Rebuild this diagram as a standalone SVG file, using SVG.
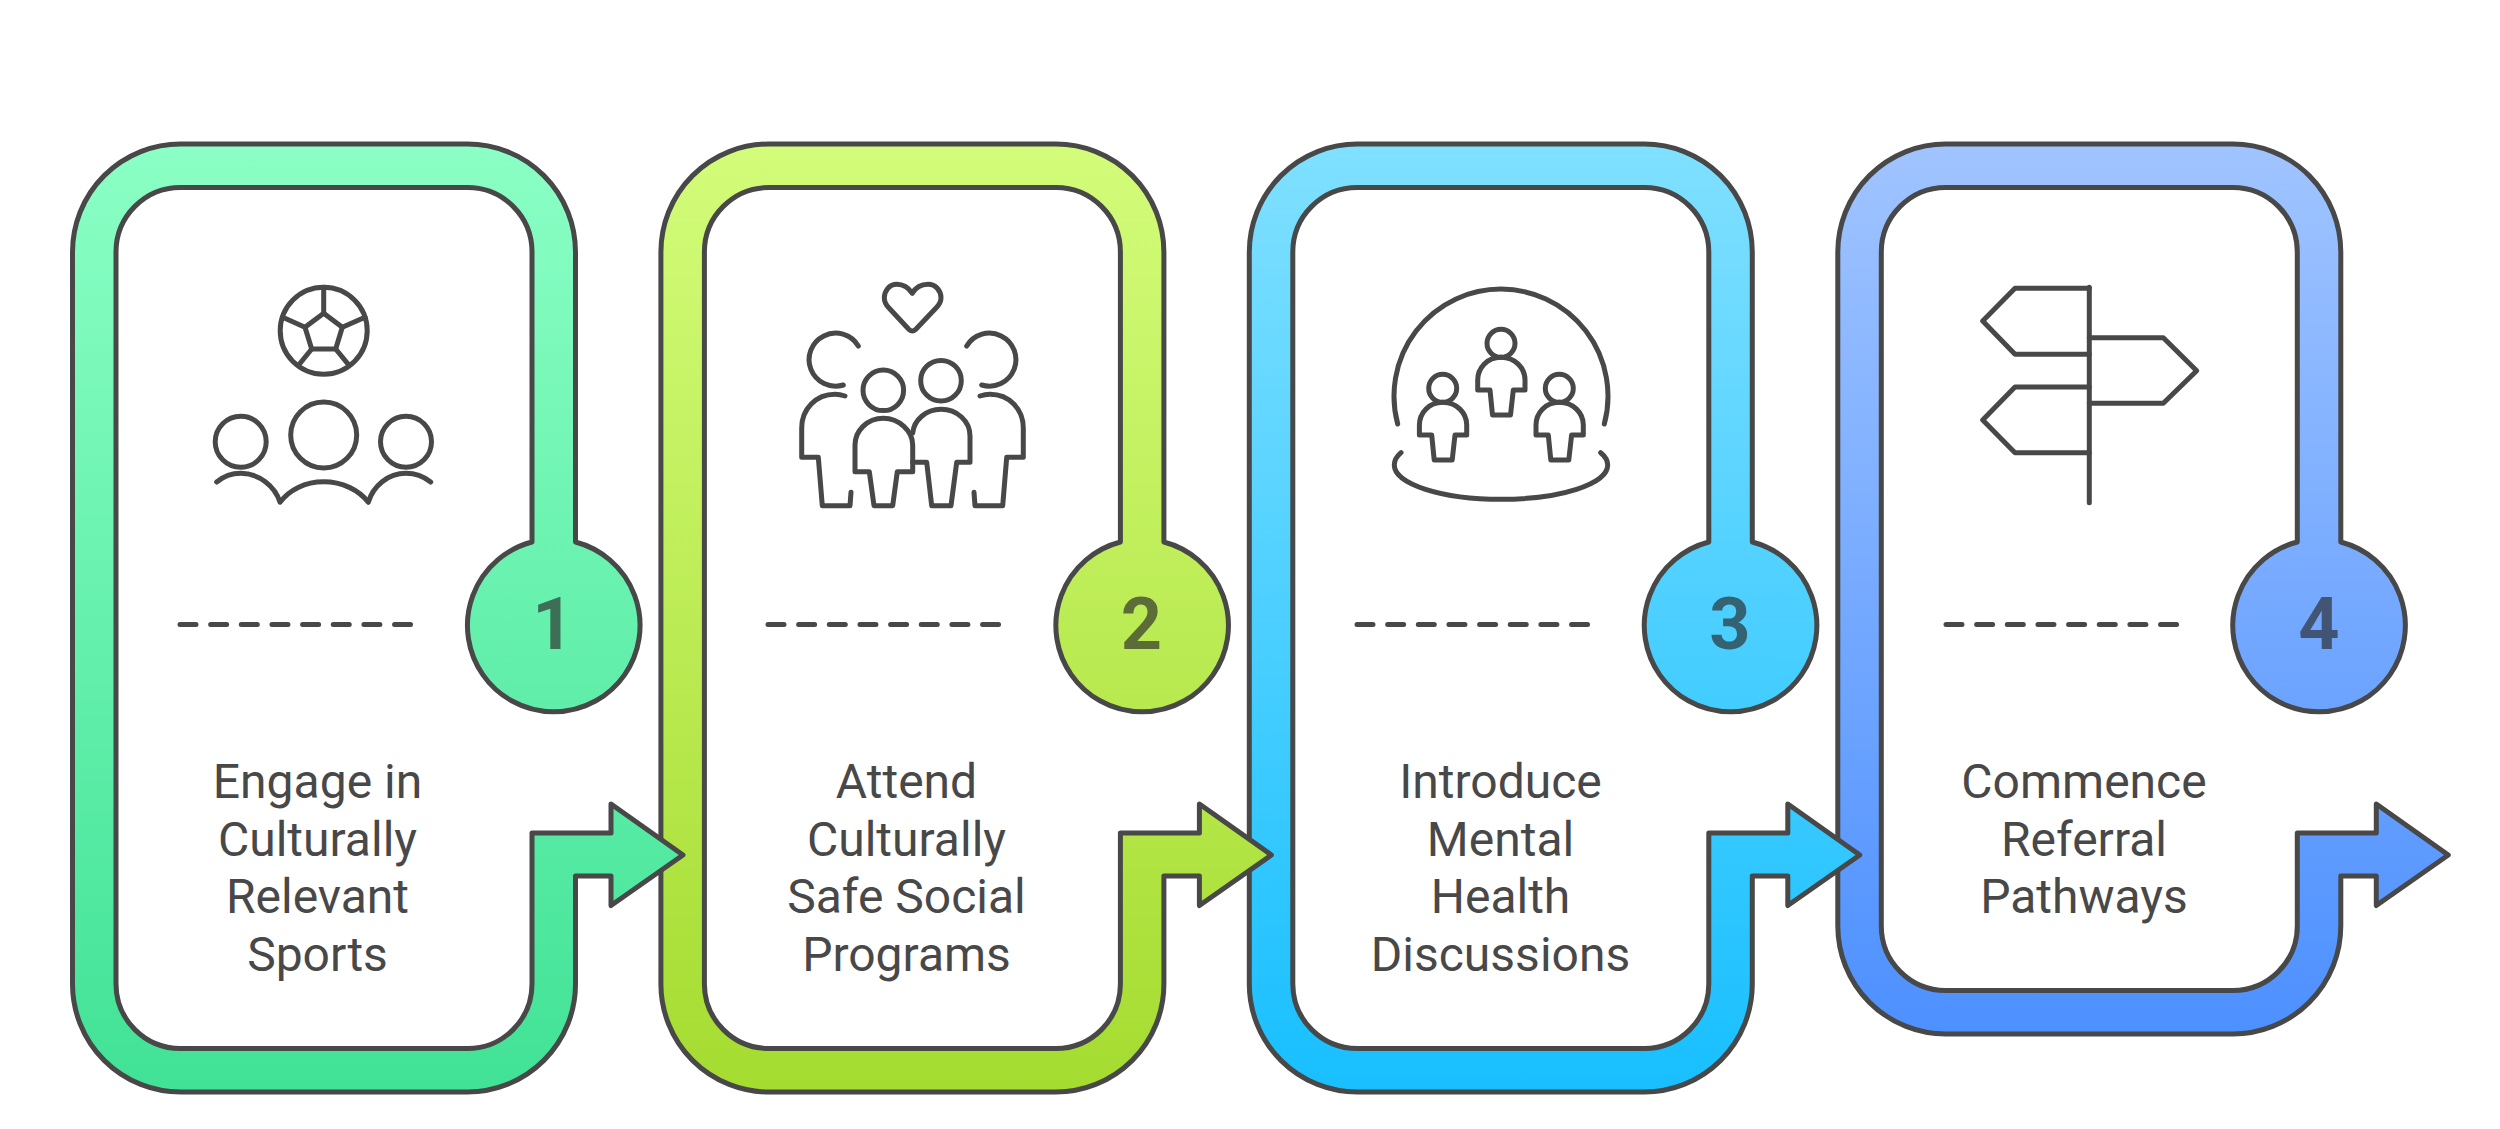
<svg xmlns="http://www.w3.org/2000/svg" width="2500" height="1129" viewBox="0 0 2500 1129">
<style>
.band{stroke:#484848;stroke-width:5;stroke-linejoin:round}
.ic{fill:none;stroke:#484848;stroke-width:5;stroke-linecap:round;stroke-linejoin:round}
.dash{fill:none;stroke:#484848;stroke-width:5;stroke-linecap:round;stroke-dasharray:16 14.65}
.lbl{font-family:Roboto,"Liberation Sans",sans-serif;font-size:48px;fill:#484848;text-anchor:middle}
.num{font-family:Roboto,"Liberation Sans",sans-serif;font-size:72px;font-weight:700;fill:#282828;fill-opacity:.65;text-anchor:middle}
</style>
<defs>
<linearGradient id="g1" x1="0" y1="0" x2="0" y2="1"><stop offset="0" stop-color="#8BFFC5"/><stop offset="1" stop-color="#41E296"/></linearGradient>
<linearGradient id="g2" x1="0" y1="0" x2="0" y2="1"><stop offset="0" stop-color="#D3FC7A"/><stop offset="1" stop-color="#A5DC30"/></linearGradient>
<linearGradient id="g3" x1="0" y1="0" x2="0" y2="1"><stop offset="0" stop-color="#80E0FF"/><stop offset="1" stop-color="#18BFFF"/></linearGradient>
<linearGradient id="g4" x1="0" y1="0" x2="0" y2="1"><stop offset="0" stop-color="#A0C4FF"/><stop offset="1" stop-color="#4D90FF"/></linearGradient>
<path id="band" class="band" d="M532 542V252A64.500 64.500 0 0 0 467.500 187.500H180.500A64.500 64.500 0 0 0 116 252V984A64.500 64.500 0 0 0 180.500 1048.500H467.500A64.500 64.500 0 0 0 532 984V833H611V804L683 855L611 905.500V876H575.500V984A108 108 0 0 1 467.500 1092H180.500A108 108 0 0 1 72.500 984V252A108 108 0 0 1 180.500 144H467.500A108 108 0 0 1 575.500 252V542A86.300 86.300 0 1 1 532 542Z"/>
<g id="p3">
<circle cx="1501" cy="343.300" r="14"/>
<path d="M1501 357.300C1487 357.300 1477.700 368 1477.700 380V390H1490L1492.500 415H1510.500L1513.300 390H1525V380C1525 368 1515 357.300 1501 357.300Z"/>
</g>
</defs>

<g id="node-4">
<path class="band" fill="url(#g4)" transform="translate(1765.300 0)" d="M532 542V252A64.500 64.500 0 0 0 467.500 187.500H180.500A64.500 64.500 0 0 0 116 252V926A64.500 64.500 0 0 0 180.500 990.500H467.500A64.500 64.500 0 0 0 532 926V833H611V804L683 855L611 905.500V876H575.500V926A108 108 0 0 1 467.500 1034H180.500A108 108 0 0 1 72.500 926V252A108 108 0 0 1 180.500 144H467.500A108 108 0 0 1 575.500 252V542A86.300 86.300 0 1 1 532 542Z"/>
<text class="num" x="2319" y="649">4</text>
<line class="dash" x1="1946" y1="624.500" x2="2180" y2="624.500"/>
<text class="lbl" x="2084" y="798">Commence</text>
<text class="lbl" x="2084" y="855.500">Referral</text>
<text class="lbl" x="2084" y="913">Pathways</text>
<g class="ic">
<path d="M2089.300 287.300V502.700"/>
<path d="M2089.300 288.300H2015L1982.700 321L2015 354.300H2089.300"/>
<path d="M2089.300 337.700H2163.300L2196.700 370.700L2163.300 403.300H2089.300"/>
<path d="M2089.300 387H2015L1982.700 420L2015 452.700H2089.300"/>
</g>
</g>

<g id="node-3">
<use href="#band" fill="url(#g3)" x="1176.800"/>
<text class="num" x="1730" y="649">3</text>
<line class="dash" x1="1357" y1="624.500" x2="1591" y2="624.500"/>
<text class="lbl" x="1500.500" y="798">Introduce</text>
<text class="lbl" x="1500.500" y="855.500">Mental</text>
<text class="lbl" x="1500.500" y="913">Health</text>
<text class="lbl" x="1500.500" y="970.500">Discussions</text>
<g class="ic">
<path d="M1397.700 424A107 107 0 1 1 1604.300 424"/>
<path d="M1401 452.700C1396 457 1394.300 461 1394.300 465C1394.300 484 1442 499.300 1501 499.300C1560 499.300 1607.700 484 1607.700 465C1607.700 461 1606 457 1600.700 452.700"/>
<use href="#p3"/>
<use href="#p3" x="-58.300" y="45"/>
<use href="#p3" x="58.300" y="45"/>
</g>
</g>

<g id="node-2">
<use href="#band" fill="url(#g2)" x="588.400"/>
<text class="num" x="1141.500" y="649">2</text>
<line class="dash" x1="768" y1="624.500" x2="1002" y2="624.500"/>
<text class="lbl" x="906.500" y="798">Attend</text>
<text class="lbl" x="906.500" y="855.500">Culturally</text>
<text class="lbl" x="906.500" y="913">Safe Social</text>
<text class="lbl" x="906.500" y="970.500">Programs</text>
<g class="ic">
<path d="M912.300 293.300C908 287 902 284.300 897 284.300C889 284.300 884.300 291 884.300 298C884.300 302 886 305 889 308L909 329.500Q912.300 332.500 915.600 329.500L936 308C939 305 941 302 941 298C941 291 936 284.300 928 284.300C922 284.300 916 287 912.300 293.300Z"/>
<path d="M858.300 346A26.500 26.500 0 1 0 843.300 385"/>
<path d="M845 396Q840 394.300 835 394.300C816 394.300 801.700 409 801.700 428V457.300H818.300L822.300 505.700H850L851 492.300"/>
<path d="M966.700 346A26.500 26.500 0 1 1 981.700 385"/>
<path d="M980 396Q985 394.300 990 394.300C1009 394.300 1023.300 409 1023.300 428V457.300H1006.700L1002.700 505.700H975L974 492.300"/>
<circle cx="883.300" cy="390.300" r="20.300"/>
<circle cx="941" cy="380.700" r="20.300"/>
<path d="M883.300 418.300C867 418.300 855 431 855 445V471.700H869.300L874 505.700H892.700L897.300 471.700H912.700V445C912.700 431 899 418.300 883.300 418.300Z"/>
<path d="M912.700 433C914 420 926 409.300 941 409.300C957 409.300 970 421 970 436V462.300H956.700L951 505.700H931.700L926.700 462.300H912.700"/>
</g>
</g>

<g id="node-1">
<use href="#band" fill="url(#g1)"/>
<text class="num" x="553" y="649">1</text>
<line class="dash" x1="180" y1="624.500" x2="413.500" y2="624.500"/>
<text class="lbl" x="317.500" y="798">Engage in</text>
<text class="lbl" x="317.500" y="855.500">Culturally</text>
<text class="lbl" x="317.500" y="913">Relevant</text>
<text class="lbl" x="317.500" y="970.500">Sports</text>
<g class="ic">
<circle cx="323.700" cy="330.700" r="43.500"/>
<path d="M323.700 313.300L342.300 327.300L335.700 349H311.700L305 327.300Z"/>
<path d="M323.700 313.300V287.300M342.300 327.300L365 317.300M335.700 349L348.300 364.300M311.700 349L299.300 364.300M305 327.300L282.700 317.300"/>
<circle cx="323.700" cy="435" r="33"/>
<circle cx="240.700" cy="441.700" r="25.500"/>
<circle cx="406" cy="441.700" r="25.500"/>
<path d="M216.700 482C224 476 232 473.300 240.700 473.300C259 473.300 275 486 280 502.300C289 490 305 481.700 323.700 481.700C342 481.700 359 490 368.300 502.300C373 486 388 473.300 406 473.300C415 473.300 423 476 430.700 482"/>
</g>
</g>
</svg>
